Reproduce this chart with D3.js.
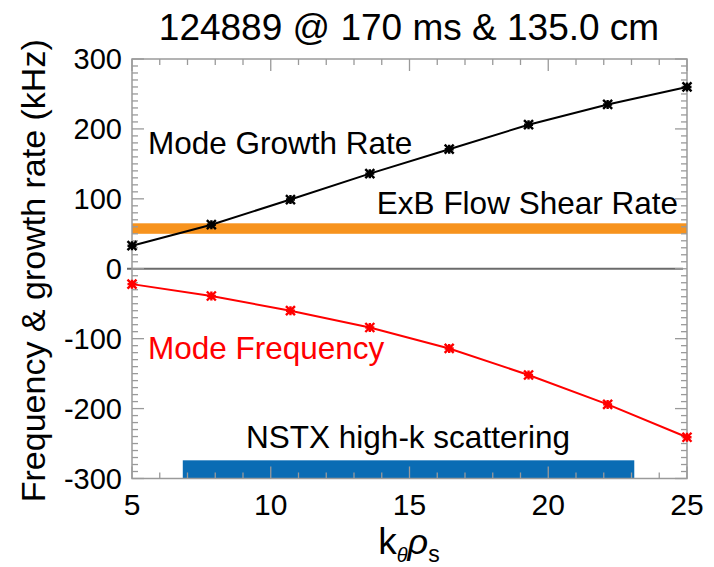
<!DOCTYPE html>
<html><head><meta charset="utf-8">
<script src="https://cdn.jsdelivr.net/npm/d3@7"></script>
<style>body{margin:0;background:#fff}svg{display:block}text{font-family:"Liberation Sans",Arial,sans-serif}</style>
</head><body><svg id="c" width="714" height="567"></svg>
<script>
const kRho = [5, 7.86, 10.71, 13.57, 16.43, 19.29, 22.14, 25];
const growthRate = [33, 63, 99, 136, 171, 206, 235, 260];
const modeFreq = [-22, -39, -60, -84, -114, -152, -194, -241];
const shearBand = [50, 65];
const scatterK = [6.83, 23.1];
const scatterY = [-300, -274];
const xTicks = [5, 10, 15, 20, 25];
const yTicks = [-300, -200, -100, 0, 100, 200, 300];

const svg = d3.select("#c");
const x = d3.scaleLinear().domain([5, 25]).range([132, 687]);
const y = d3.scaleLinear().domain([-300, 300]).range([478.5, 59]);
const L = x.range()[0], R = x.range()[1], T = y.range()[1], B = y.range()[0];

// bands
svg.append("rect").attr("x", L).attr("width", R - L)
  .attr("y", y(shearBand[1])).attr("height", y(shearBand[0]) - y(shearBand[1]))
  .attr("fill", "#f7931e");
svg.append("rect").attr("x", x(scatterK[0])).attr("width", x(scatterK[1]) - x(scatterK[0]))
  .attr("y", y(scatterY[1])).attr("height", y(scatterY[0]) - y(scatterY[1]))
  .attr("fill", "#0a6cb4");

// zero line
svg.append("line").attr("x1", L - 5).attr("x2", R - 4).attr("y1", y(0)).attr("y2", y(0))
  .attr("stroke", "#6b6b6b").attr("stroke-width", 2);

// axes box with inward ticks
const axCol = "#9a9a9a";
const g = svg.append("g");
g.append("rect").attr("x", L).attr("y", T).attr("width", R - L).attr("height", B - T)
  .attr("fill", "none").attr("stroke", axCol).attr("stroke-width", 1.5);
const xMinor = d3.range(5, 25.01, 1);
xMinor.forEach(v => {
  const len = (v % 5 === 0) ? 12 : 6;
  g.append("line").attr("x1", x(v)).attr("x2", x(v)).attr("y1", B).attr("y2", B - len).attr("stroke", axCol).attr("stroke-width", 1.3);
  g.append("line").attr("x1", x(v)).attr("x2", x(v)).attr("y1", T).attr("y2", T + len).attr("stroke", axCol).attr("stroke-width", 1.3);
});
const yMinor = d3.range(-300, 300.01, 10);
yMinor.forEach(v => {
  const len = (v % 100 === 0) ? 12 : 6;
  g.append("line").attr("y1", y(v)).attr("y2", y(v)).attr("x1", L).attr("x2", L + len).attr("stroke", axCol).attr("stroke-width", 1.3);
  g.append("line").attr("y1", y(v)).attr("y2", y(v)).attr("x1", R).attr("x2", R - len).attr("stroke", axCol).attr("stroke-width", 1.3);
});

// tick labels
svg.selectAll(".xl").data(xTicks).join("text").attr("class", "xl")
  .attr("x", d => x(d)).attr("y", 515).attr("text-anchor", "middle")
  .attr("font-size", 30).attr("fill", "#000").text(d => d);
svg.selectAll(".yl").data(yTicks).join("text").attr("class", "yl")
  .attr("x", 122).attr("y", d => y(d)).attr("dy", "0.36em").attr("text-anchor", "end")
  .attr("font-size", 29).attr("fill", "#000").text(d => d);

// lines
const line = d3.line().x(d => x(d[0])).y(d => y(d[1]));
function series(vals, color) {
  const pts = kRho.map((k, i) => [k, vals[i]]);
  svg.append("path").datum(pts).attr("d", line).attr("fill", "none").attr("stroke", color).attr("stroke-width", 2);
  const r = 4.5;
  svg.selectAll(null).data(pts).join("path")
    .attr("transform", d => `translate(${x(d[0])},${y(d[1])})`)
    .attr("d", `M${-r},${-r}L${r},${r}M${-r},${r}L${r},${-r}M0,${-r}L0,${r}M${-r},0L${r},0`)
    .attr("stroke", color).attr("stroke-width", 2.4).attr("fill", "none");
}
series(growthRate, "#000");
series(modeFreq, "#ff0000");

// annotations
svg.append("text").attr("x", 148).attr("y", 154).attr("font-size", 31.5).attr("fill", "#000").text("Mode Growth Rate");
svg.append("text").attr("x", 678).attr("y", 214).attr("text-anchor", "end").attr("font-size", 31.5).attr("fill", "#000").text("ExB Flow Shear Rate");
svg.append("text").attr("x", 148).attr("y", 359).attr("font-size", 31.5).attr("fill", "#ff0000").text("Mode Frequency");
svg.append("text").attr("x", 408).attr("y", 448).attr("text-anchor", "middle").attr("font-size", 31.5).attr("fill", "#000").text("NSTX high-k scattering");

// title
svg.append("text").attr("x", 409).attr("y", 40).attr("text-anchor", "middle").attr("font-size", 37).attr("fill", "#000")
  .text("124889 @ 170 ms & 135.0 cm");

// y label
svg.append("text").attr("transform", `translate(45,${(T + B) / 2 + 2}) rotate(-90)`)
  .attr("text-anchor", "middle").attr("font-size", 34).attr("fill", "#000")
  .text("Frequency & growth rate (kHz)");

// x label
const xl = svg.append("text").attr("x", 409).attr("y", 554).attr("text-anchor", "middle").attr("font-size", 37).attr("fill", "#000");
xl.append("tspan").text("k");
xl.append("tspan").attr("font-size", 20).attr("font-style", "italic").attr("dy", 8).text("θ");
xl.append("tspan").attr("font-size", 36).attr("font-style", "italic").attr("dy", -8).text("ρ");
xl.append("tspan").attr("font-size", 23).attr("dy", 8).text("s");
</script></body></html>
